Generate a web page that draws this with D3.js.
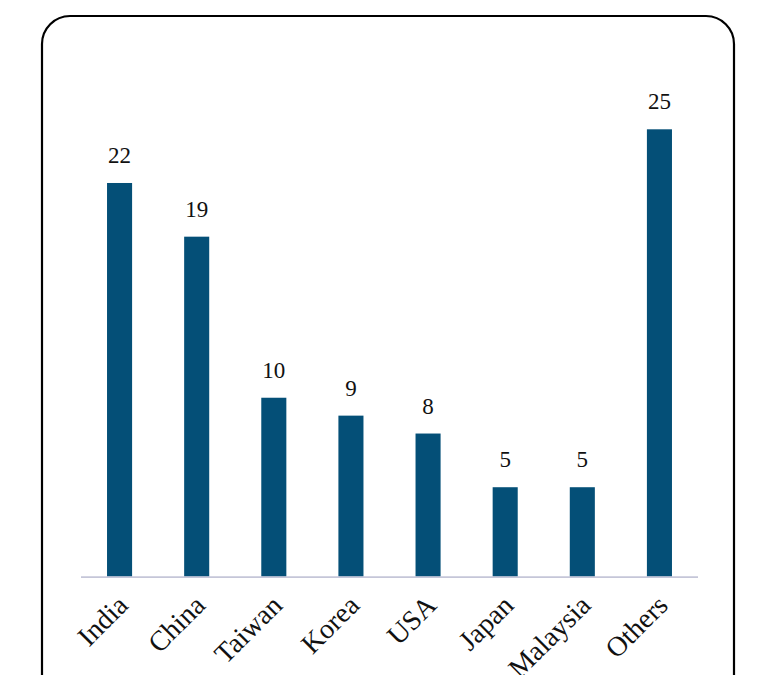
<!DOCTYPE html>
<html>
<head>
<meta charset="utf-8">
<script src="https://cdn.jsdelivr.net/npm/d3@7"></script>
<style>
  body { margin: 0; background: #fff; }
  svg { display: block; }
  text { font-family: "Liberation Serif", "DejaVu Serif", serif; fill: #111; }
</style>
</head>
<body>
<svg id="chart"></svg>
<script>
// data
var countries = ["India", "China", "Taiwan", "Korea", "USA", "Japan", "Malaysia", "Others"];
var shares = [22, 19, 10, 9, 8, 5, 5, 25];

var width = 784, height = 675;

var svg = d3.select("#chart")
    .attr("width", width)
    .attr("height", height);

// rounded frame (runs off the bottom of the picture)
svg.append("rect")
    .attr("x", 42)
    .attr("y", 16)
    .attr("width", 692)
    .attr("height", 720)
    .attr("rx", 28)
    .attr("ry", 28)
    .attr("fill", "none")
    .attr("stroke", "#000")
    .attr("stroke-width", 2.2);

// scales
var x = d3.scaleBand()
    .domain(countries)
    .range([81, 698])
    .paddingInner(0.675)
    .paddingOuter(0.3375);

var y = d3.scaleLinear()
    .domain([0, 25])
    .range([576.7, 129.3]);

// bars
svg.selectAll("rect.bar")
    .data(shares)
    .enter()
    .append("rect")
    .attr("class", "bar")
    .attr("x", function(d, i) { return x(countries[i]); })
    .attr("y", function(d) { return y(d); })
    .attr("width", x.bandwidth())
    .attr("height", function(d) { return y(0) - y(d); })
    .attr("fill", "#044f77");

// baseline
svg.append("line")
    .attr("x1", 81)
    .attr("x2", 698)
    .attr("y1", y(0) + 0.5)
    .attr("y2", y(0) + 0.5)
    .attr("stroke", "#c5c6d8")
    .attr("stroke-width", 1.8);

// value labels
svg.selectAll("text.val")
    .data(shares)
    .enter()
    .append("text")
    .attr("class", "val")
    .attr("x", function(d, i) { return x(countries[i]) + x.bandwidth() / 2; })
    .attr("y", function(d) { return y(d) - 20; })
    .attr("text-anchor", "middle")
    .style("font-size", "23px")
    .text(function(d) { return d; });

// category labels, rotated
svg.selectAll("text.cat")
    .data(countries)
    .enter()
    .append("text")
    .attr("class", "cat")
    .attr("text-anchor", "end")
    .attr("transform", function(d) {
        var cx = x(d) + x.bandwidth() / 2 + 10;
        return "translate(" + cx + ",607) rotate(-45)";
    })
    .style("font-size", "28px")
    .text(function(d) { return d; });
</script>
</body>
</html>
